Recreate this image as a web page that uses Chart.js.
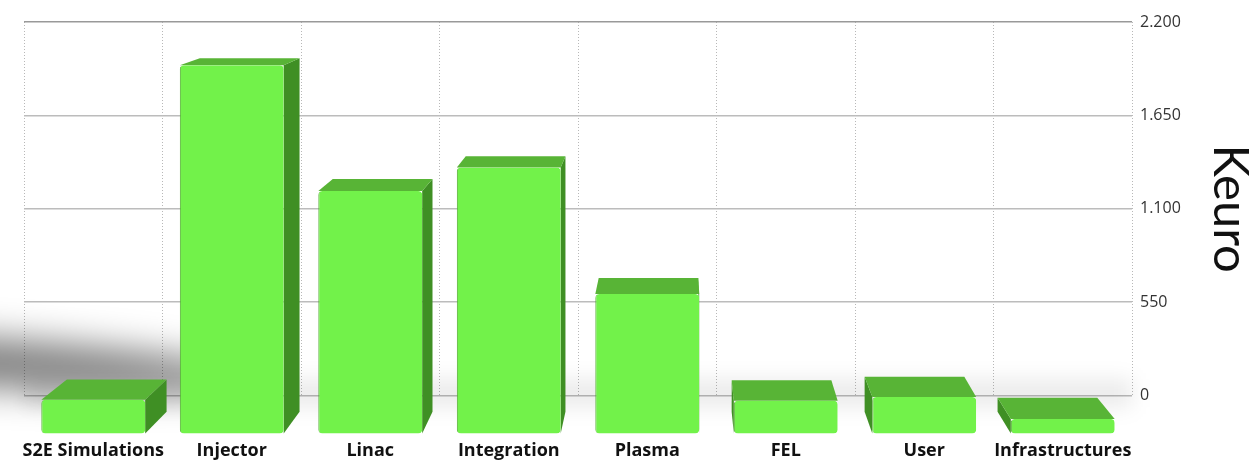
<!DOCTYPE html>
<html>
<head>
<meta charset="utf-8">
<script src="https://cdn.jsdelivr.net/npm/chart.js@4.4.0/dist/chart.umd.min.js"></script>
<style>
  html, body { margin: 0; padding: 0; background: #fff; }
  #wrap { width: 1254px; height: 464px; }
</style>
</head>
<body>
<div id="wrap"><canvas id="budget"></canvas></div>
<script>
const categories = ['S2E Simulations', 'Injector', 'Linac', 'Integration', 'Plasma', 'FEL', 'User', 'Infrastructures'];
const costs = [185, 2020, 1330, 1460, 765, 180, 200, 80];
const tickValues = [0, 550, 1100, 1650, 2200];
const axisTitle = 'Keuro';

// "1650" -> "1.650"
const fmt = v => String(v).replace(/\B(?=(\d{3})+(?!\d))/g, '.');

// pseudo 3D: the back of each block is pulled towards a vanishing point above the chart
const VANISH = { x: 680, y: -110 };
const DEPTH = 0.04;

const floorShadow = {
  id: 'floorShadow',
  beforeDatasetsDraw(chart) {
    const { ctx, chartArea } = chart;
    ctx.save();
    ctx.filter = 'blur(18px)';
    ctx.fillStyle = 'rgba(0,0,0,0.5)';
    ctx.beginPath();
    ctx.ellipse(chartArea.left - 60, chartArea.bottom - 34, 290, 25, 0.06, 0, Math.PI * 2);
    ctx.fill();
    ctx.filter = 'blur(10px)';
    ctx.fillStyle = 'rgba(0,0,0,0.08)';
    ctx.fillRect(chartArea.left, chartArea.bottom - 16, chartArea.width, 28);
    ctx.restore();
  }
};

const blocks = {
  id: 'blocks',
  beforeDatasetsDraw(chart) {
    const ctx = chart.ctx;
    const back = (px, py) => [px + (VANISH.x - px) * DEPTH, py + (VANISH.y - py) * DEPTH];
    const poly = (pts, color) => {
      ctx.fillStyle = color;
      ctx.beginPath();
      pts.forEach(([px, py], i) => i ? ctx.lineTo(px, py) : ctx.moveTo(px, py));
      ctx.closePath();
      ctx.fill();
    };
    ctx.save();
    chart.getDatasetMeta(0).data.forEach(bar => {
      const { x, y, base, width } = bar.getProps(['x', 'y', 'base', 'width'], true);
      const l = x - width / 2, r = x + width / 2;
      const tl = back(l, y), tr = back(r, y), bl = back(l, base), br = back(r, base);
      if (x < VANISH.x) poly([[r, y], [r, base], br, tr], '#3f8f24');
      else poly([[l, y], [l, base], bl, tl], '#3f8f24');
      poly([[l, y], [r, y], tr, tl], '#58b436');
    });
    ctx.restore();
  }
};

new Chart(document.getElementById('budget'), {
  type: 'bar',
  data: {
    labels: categories,
    datasets: [{
      data: costs,
      yAxisID: 'yBar',
      backgroundColor: '#72f24a',
      borderColor: '#4fa82f',
      borderWidth: { left: 1 },
      borderRadius: 4,
      borderSkipped: false,
      barPercentage: 0.75,
      categoryPercentage: 1,
      clip: false
    }]
  },
  options: {
    responsive: true,
    maintainAspectRatio: false,
    animation: false,
    // negative bottom padding: the tick padding is counted twice in the x axis height
    layout: { padding: { left: 24, top: 22, right: 0, bottom: -43 } },
    plugins: { legend: { display: false }, tooltip: { enabled: false } },
    scales: {
      x: {
        afterFit: s => { s.paddingLeft = 0; s.paddingRight = 0; },
        grid: { offset: true, drawTicks: false, color: '#b8b8b8', lineWidth: 1 },
        border: { display: false, dash: [1, 2] },
        ticks: {
          padding: 45, maxRotation: 0, minRotation: 0, autoSkip: false,
          color: '#111', font: { family: 'Open Sans', size: 18, weight: 'bold' }
        }
      },
      y: {
        position: 'right',
        min: 0,
        max: 2200,
        afterBuildTicks: s => { s.ticks = tickValues.map(value => ({ value })); },
        afterFit: s => { s.width = 122; },
        grid: { drawTicks: false, lineWidth: 1.5, color: c => c.tick && c.tick.value === 2200 ? '#999' : '#bcbcbc' },
        border: { display: false },
        ticks: { padding: 8, color: '#333', font: { family: 'Open Sans', size: 16 }, callback: v => fmt(v) },
        title: { display: true, text: axisTitle, color: '#111', padding: 0, font: { family: 'Lato', size: 49, lineHeight: 1 } }
      },
      // the blocks stand in front of the back wall: their base sits lower and their scale is a bit larger
      yBar: { display: false, min: 209, max: 2258 }
    }
  },
  plugins: [floorShadow, blocks]
});
</script>
</body>
</html>
